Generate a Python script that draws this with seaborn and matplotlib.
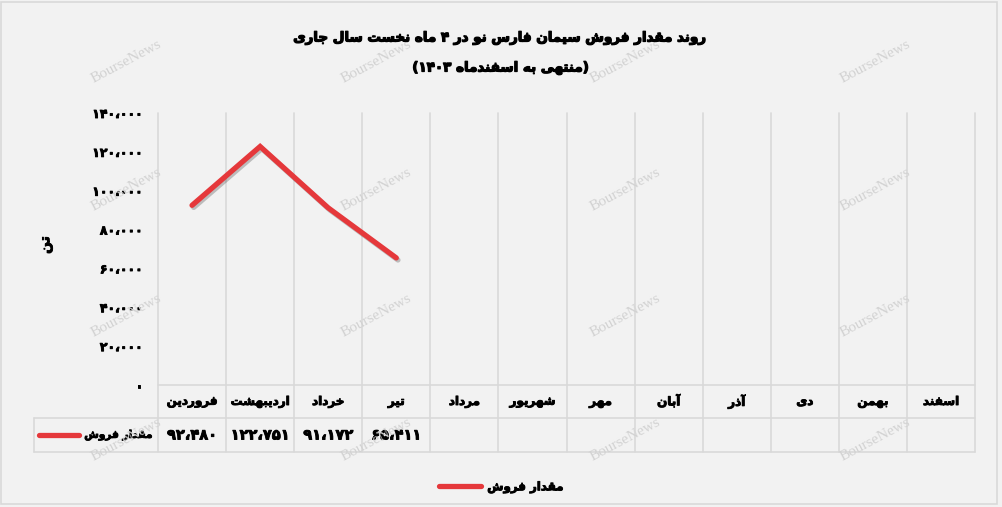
"""Monthly sales volume chart - Fars Nov Cement (first 4 months)."""
import numpy as np
import pandas as pd
import matplotlib
matplotlib.use("Agg")
import matplotlib.pyplot as plt
import matplotlib.patheffects as pe
import matplotlib.transforms as mtransforms
from matplotlib.lines import Line2D
from matplotlib.patches import Rectangle
import seaborn as sns

# ── data ──────────────────────────────────────────────────────────────────────
MONTHS = ["فروردین", "اردیبهشت", "خرداد", "تیر", "مرداد", "شهریور",
          "مهر", "آبان", "آذر", "دی", "بهمن", "اسفند"]
SALES = [92480, 122751, 91172, 65411]
YTICKS = [0, 20000, 40000, 60000, 80000, 100000, 120000, 140000]
TITLE = "روند مقدار فروش سیمان فارس نو در ۴ ماه نخست سال جاری"
SUBTITLE = "(منتهی به اسفندماه ۱۴۰۳)"
SERIES = "مقدار فروش"
YLABEL = "تن"

RED, GRID, BG = "#e5383b", "#d9d9d9", "#f2f2f2"

# ── minimal arabic/persian shaping (matplotlib has no bidi) ──────────────────
DUAL = {
    "ب": "\uFE8F\uFE90\uFE91\uFE92", "پ": "\uFB56\uFB57\uFB58\uFB59",
    "ت": "\uFE95\uFE96\uFE97\uFE98", "ث": "\uFE99\uFE9A\uFE9B\uFE9C",
    "ج": "\uFE9D\uFE9E\uFE9F\uFEA0", "چ": "\uFB7A\uFB7B\uFB7C\uFB7D",
    "ح": "\uFEA1\uFEA2\uFEA3\uFEA4", "خ": "\uFEA5\uFEA6\uFEA7\uFEA8",
    "س": "\uFEB1\uFEB2\uFEB3\uFEB4", "ش": "\uFEB5\uFEB6\uFEB7\uFEB8",
    "ص": "\uFEB9\uFEBA\uFEBB\uFEBC", "ض": "\uFEBD\uFEBE\uFEBF\uFEC0",
    "ط": "\uFEC1\uFEC2\uFEC3\uFEC4", "ظ": "\uFEC5\uFEC6\uFEC7\uFEC8",
    "ع": "\uFEC9\uFECA\uFECB\uFECC", "غ": "\uFECD\uFECE\uFECF\uFED0",
    "ف": "\uFED1\uFED2\uFED3\uFED4", "ق": "\uFED5\uFED6\uFED7\uFED8",
    "ک": "\uFB8E\uFB8F\uFB90\uFB91", "گ": "\uFB92\uFB93\uFB94\uFB95",
    "ل": "\uFEDD\uFEDE\uFEDF\uFEE0", "م": "\uFEE1\uFEE2\uFEE3\uFEE4",
    "ن": "\uFEE5\uFEE6\uFEE7\uFEE8", "ه": "\uFEE9\uFEEA\uFEEB\uFEEC",
    "ی": "\uFBFC\uFBFD\uFBFE\uFBFF", "ي": "\uFEF1\uFEF2\uFEF3\uFEF4",
}
RIGHT = {
    "ا": "\uFE8D\uFE8E", "آ": "\uFE81\uFE82", "د": "\uFEA9\uFEAA",
    "ذ": "\uFEAB\uFEAC", "ر": "\uFEAD\uFEAE", "ز": "\uFEAF\uFEB0",
    "ژ": "\uFB8A\uFB8B", "و": "\uFEED\uFEEE",
}
DIGITS = set("۰۱۲۳۴۵۶۷۸۹0123456789،")
MIRROR = {"(": ")", ")": "("}


def shape(text):
    out = []
    for i, c in enumerate(text):
        prev = text[i - 1] if i > 0 else ""
        nxt = text[i + 1] if i + 1 < len(text) else ""
        jp = prev in DUAL
        if c in RIGHT:
            out.append(RIGHT[c][1 if jp else 0])
        elif c in DUAL:
            jn = nxt in DUAL or nxt in RIGHT
            out.append(DUAL[c][3 if jp and jn else 1 if jp else 2 if jn else 0])
        else:
            out.append(c)
    # visual order: reverse, keeping digit runs left-to-right
    runs, cur = [], ""
    for c in out:
        if c in DIGITS:
            cur += c
        else:
            if cur:
                runs.append(cur)
                cur = ""
            runs.append(MIRROR.get(c, c))
    if cur:
        runs.append(cur)
    return "".join(runs[::-1])


def fa_num(v):
    s = f"{v:,}".replace(",", "،")
    return s.translate(str.maketrans("0123456789", "۰۱۲۳۴۵۶۷۸۹"))


# ── figure ────────────────────────────────────────────────────────────────────
sns.set_style("white")
plt.rcParams["font.family"] = ["DejaVu Sans"]
plt.rcParams["text.color"] = "black"
plt.rcParams["ytick.color"] = "black"
BOLD = [pe.withStroke(linewidth=0.9, foreground="black")]
SEMI = [pe.withStroke(linewidth=0.65, foreground="black")]

W, H = 1002, 507
fig = plt.figure(figsize=(W / 100, H / 100), dpi=100, facecolor=BG)
ax = fig.add_axes([158 / W, 122 / H, 817 / W, 272 / H])
ax.set_facecolor(BG)
for s in ax.spines.values():
    s.set_visible(False)

df = pd.DataFrame({"idx": np.arange(len(SALES)), "sales": SALES})
sns.lineplot(data=df, x="idx", y="sales", ax=ax, color=RED, lw=3.8,
             solid_capstyle="round", solid_joinstyle="miter", zorder=5,
             path_effects=[pe.SimpleLineShadow(offset=(1.2, -1.5), alpha=0.22,
                                               shadow_color="black"),
                           pe.Normal()])
ax.set_xlim(-0.5, len(MONTHS) - 0.5)
ax.set_ylim(0, YTICKS[-1])
ax.set_xlabel("")
ax.set_ylabel("")
ax.set_xticks([])
ax.set_yticks(YTICKS)
ax.set_yticklabels([fa_num(v) for v in YTICKS], fontsize=9, fontweight="bold")
for t in ax.get_yticklabels():
    t.set_path_effects(SEMI)
ax.tick_params(axis="y", length=0, pad=11)

# grid + data table lines
blend = mtransforms.blended_transform_factory(ax.transData, ax.transAxes)
ROW1, ROW2 = -33 / 272, -67 / 272
TLEFT = (34 - 158) / 817
for k in range(len(MONTHS) + 1):
    ax.plot([k - 0.5, k - 0.5], [1.0, ROW2], transform=blend, color=GRID,
            lw=1.2, clip_on=False, zorder=1)
ax.plot([0, 1], [0, 0], transform=ax.transAxes, color=GRID, lw=1.2,
        clip_on=False, zorder=1)
for yy in (ROW1, ROW2):
    ax.plot([TLEFT, 1], [yy, yy], transform=ax.transAxes, color=GRID, lw=1.2,
            clip_on=False, zorder=1)
ax.plot([TLEFT, TLEFT], [ROW1, ROW2], transform=ax.transAxes, color=GRID,
        lw=1.2, clip_on=False, zorder=1)

for i, m in enumerate(MONTHS):
    ax.text(i, ROW1 / 2, shape(m), transform=blend, ha="center", va="center",
            fontsize=8.6, fontweight="bold", path_effects=SEMI)
for i, v in enumerate(SALES):
    ax.text(i, (ROW1 + ROW2) / 2, fa_num(v), transform=blend, ha="center",
            va="center", fontsize=10.5, fontweight="bold", path_effects=SEMI)
ax.plot([(39 - 158) / 817, (79 - 158) / 817], [(ROW1 + ROW2) / 2] * 2,
        transform=ax.transAxes, color=RED, lw=3.8, solid_capstyle="round",
        clip_on=False)
ax.text(-6 / 817, (ROW1 + ROW2) / 2, shape(SERIES), transform=ax.transAxes,
        ha="right", va="center", fontsize=7.6, fontweight="bold",
        path_effects=SEMI)

# titles, axis label, legend
fig.text(501 / W, 1 - 38 / H, shape(TITLE), ha="center", va="center",
         fontsize=9.7, fontweight="bold", path_effects=BOLD)
fig.text(501 / W, 1 - 68 / H, shape(SUBTITLE), ha="center", va="center",
         fontsize=9.7, fontweight="bold", path_effects=BOLD)
fig.text(46 / W, 1 - 245 / H, shape(YLABEL), rotation=90, ha="center",
         va="center", fontsize=10, fontweight="bold", path_effects=SEMI)
leg = fig.legend(handles=[Line2D([0], [0], color=RED, lw=3.8,
                                 solid_capstyle="round")],
                 labels=[shape(SERIES)], loc="center",
                 bbox_to_anchor=(0.5, 1 - 487 / H), frameon=False,
                 handlelength=3.6, handletextpad=0.5,
                 prop={"weight": "bold", "size": 8.5})
for t in leg.get_texts():
    t.set_path_effects(SEMI)

# watermark
for wx in (126, 376, 625, 875):
    for wy in (62, 190, 316, 440):
        fig.text(wx / W, 1 - wy / H, "BourseNews", rotation=28, ha="center",
                 va="center", color="#d2d2d2", fontsize=11,
                 family="Liberation Serif", zorder=0)

fig.add_artist(Rectangle((1 / W, 3 / H), 996 / W, 502 / H, transform=fig.transFigure,
                         fill=False, ec=GRID, lw=1.2))

fig.savefig("out.png", dpi=100, facecolor=BG)
